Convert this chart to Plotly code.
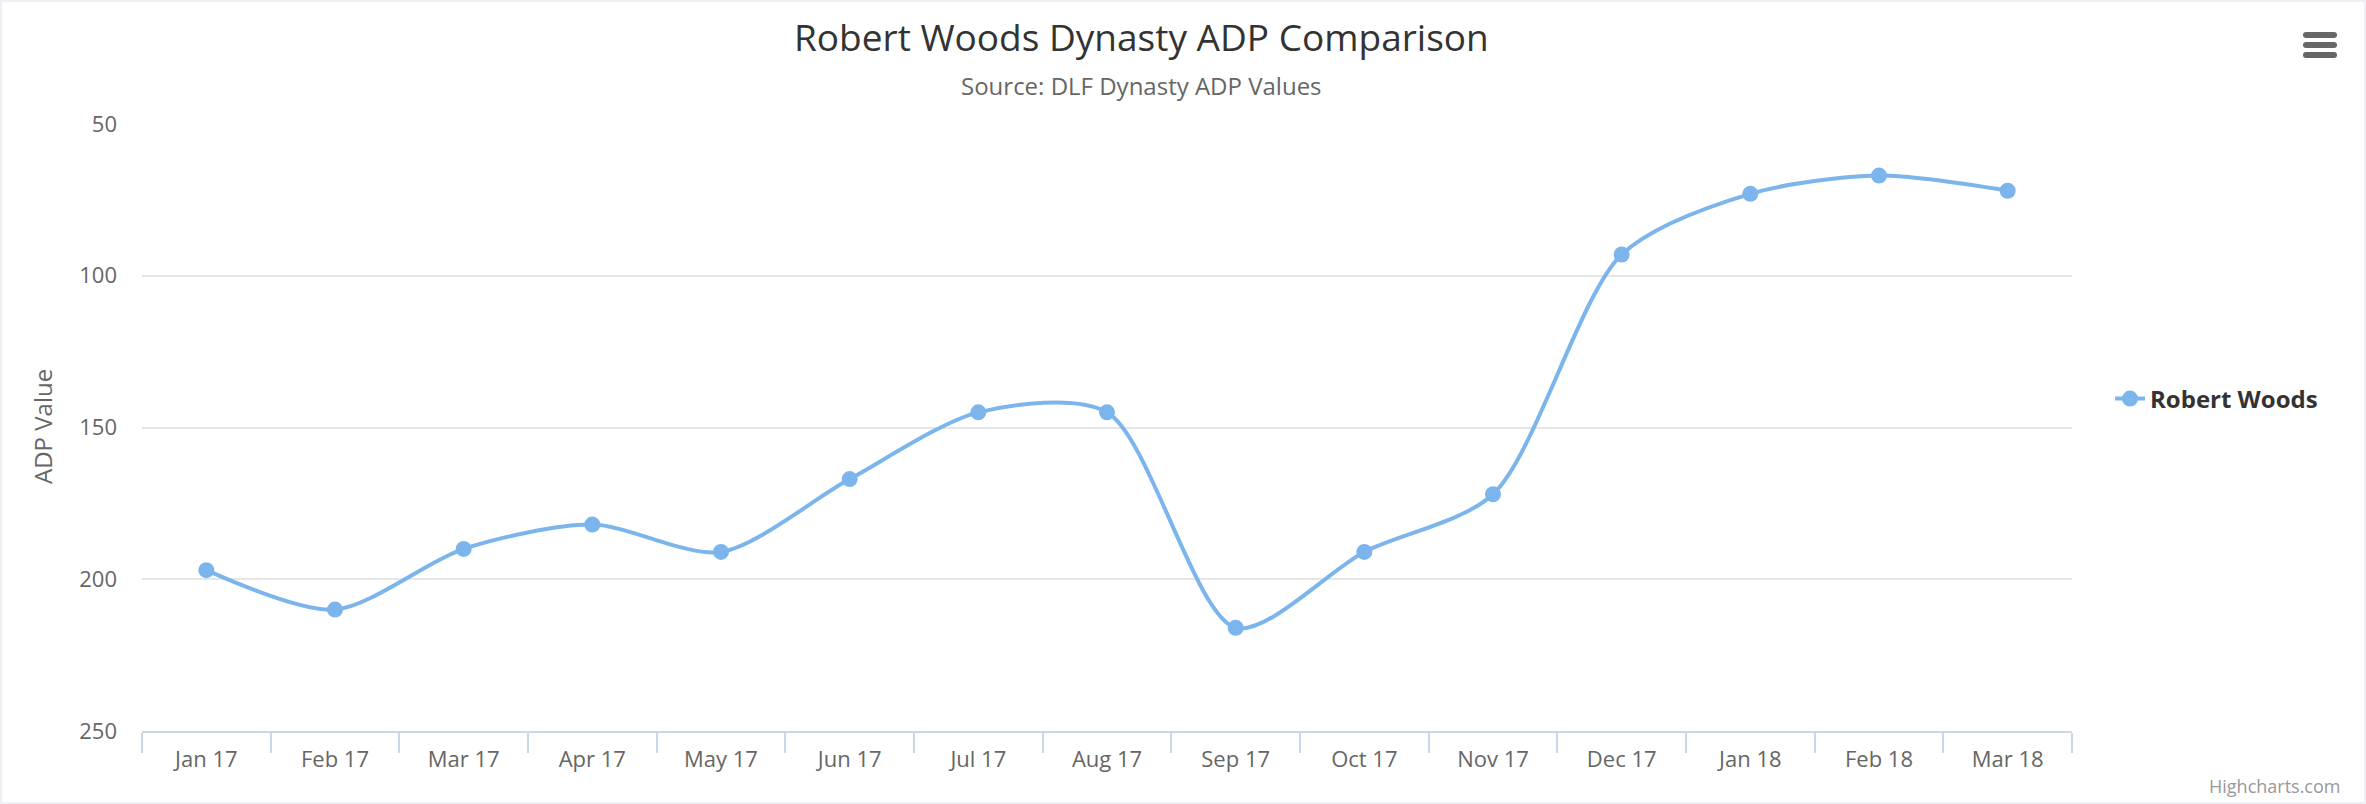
import plotly.graph_objects as go

# ---- data ----
months = ["Jan 17", "Feb 17", "Mar 17", "Apr 17", "May 17", "Jun 17", "Jul 17",
          "Aug 17", "Sep 17", "Oct 17", "Nov 17", "Dec 17", "Jan 18", "Feb 18", "Mar 18"]
adp = [197, 210, 190, 182, 191, 167, 145, 145, 216, 191, 172, 93, 73, 67, 72]
y_ticks = [50, 100, 150, 200, 250]
series_name = "Robert Woods"

W, H = 2366, 804
L, R, T, B = 142, 294, 124, 73
PW, PH = W - L - R, H - T - B

def px(x):
    return (x - L) / PW

def py(y):
    return (H - B - y) / PH

FONT = "Open Sans, DejaVu Sans, sans-serif"
COLOR = "#7cb5ec"

fig = go.Figure()
fig.add_trace(go.Scatter(
    x=months, y=adp, name=series_name,
    mode="lines+markers",
    line=dict(color=COLOR, width=4, shape="spline", smoothing=0.8),
    marker=dict(color=COLOR, size=16, symbol="circle"),
))

annotations = [
    dict(text="Robert Woods Dynasty ADP Comparison", x=px(1141), y=py(36),
         xref="paper", yref="paper", xanchor="center", yanchor="middle", showarrow=False,
         font=dict(family=FONT, size=37, color="#333333")),
    dict(text="Source: DLF Dynasty ADP Values", x=px(1141), y=py(85),
         xref="paper", yref="paper", xanchor="center", yanchor="middle", showarrow=False,
         font=dict(family=FONT, size=24, color="#666666")),
    dict(text="ADP Value", x=px(42), y=py(427), textangle=-90,
         xref="paper", yref="paper", xanchor="center", yanchor="middle", showarrow=False,
         font=dict(family=FONT, size=24, color="#666666")),
    dict(text="Highcharts.com", x=px(2342), y=py(786),
         xref="paper", yref="paper", xanchor="right", yanchor="middle", showarrow=False,
         font=dict(family=FONT, size=18, color="#999999")),
]

shapes = []
# hamburger menu icon
for top in (32, 42, 52):
    x0, x1, y0, y1, r = 2303, 2337, top, top + 6, 3
    path = (f"M {px(x0 + r)},{py(y0)} L {px(x1 - r)},{py(y0)} "
            f"Q {px(x1)},{py(y0)} {px(x1)},{py(y0 + r)} "
            f"Q {px(x1)},{py(y1)} {px(x1 - r)},{py(y1)} "
            f"L {px(x0 + r)},{py(y1)} "
            f"Q {px(x0)},{py(y1)} {px(x0)},{py(y1 - r)} "
            f"Q {px(x0)},{py(y0)} {px(x0 + r)},{py(y0)} Z")
    shapes.append(dict(type="path", path=path, xref="paper", yref="paper",
                       fillcolor="#666666", line=dict(width=0)))
# outer page border
shapes.append(dict(type="rect", xref="paper", yref="paper",
                   x0=px(0), x1=px(W), y0=py(H), y1=py(0),
                   line=dict(color="#eff0f5", width=4), fillcolor="rgba(0,0,0,0)", layer="above"))

fig.update_layout(
    width=W, height=H,
    margin=dict(l=L, r=R, t=T, b=B, autoexpand=False),
    paper_bgcolor="white", plot_bgcolor="white",
    font=dict(family=FONT, color="#666666"),
    showlegend=True,
    legend=dict(x=px(2110), y=py(399), xanchor="left", yanchor="middle",
                font=dict(family=FONT, size=24, color="#333333", weight="bold"),
                bgcolor="rgba(0,0,0,0)", itemwidth=30),
    annotations=annotations,
    shapes=shapes,
    hovermode="x",
)

fig.update_xaxes(
    type="category", categoryorder="array", categoryarray=months,
    range=[-0.5, len(months) - 0.5],
    showgrid=False, zeroline=False,
    showline=True, linecolor="#ccd6eb", linewidth=2,
    ticks="outside", tickson="boundaries", ticklen=20, tickwidth=2, tickcolor="#ccd6eb",
    tickfont=dict(family=FONT, size=22, color="#666666"),
    ticklabelstandoff=8,
    automargin=False,
)
fig.update_yaxes(
    range=[250, 50], tickvals=y_ticks,
    showgrid=True, gridcolor="#e6e6e6", gridwidth=2,
    zeroline=False, showline=False, ticks="",
    tickfont=dict(family=FONT, size=22, color="#666666"),
    ticklabelstandoff=24,
    automargin=False,
)

fig.write_html("out.html")
